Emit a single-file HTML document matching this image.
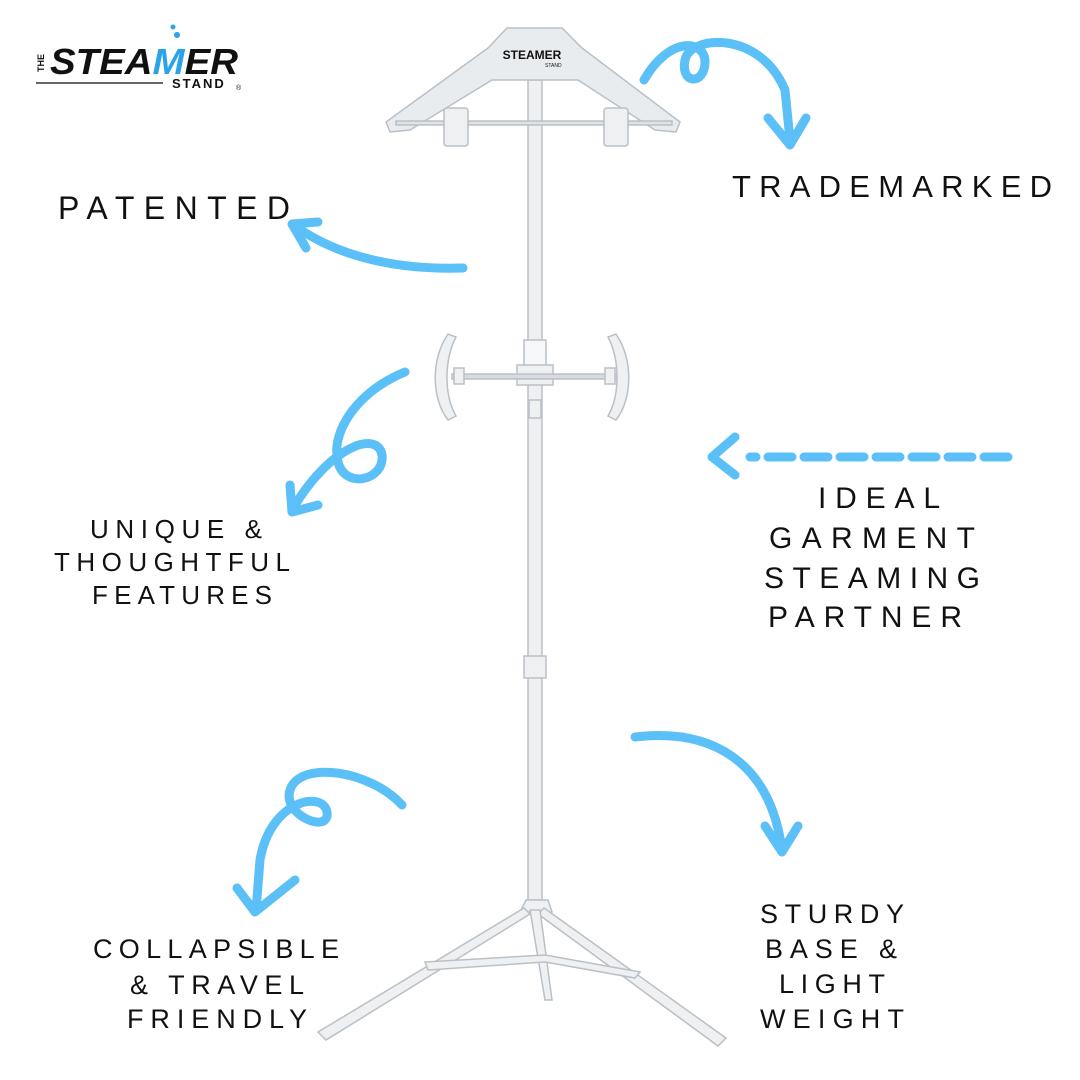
<!DOCTYPE html>
<html><head><style>
body{margin:0;background:#fff}
svg{display:block}
text{font-family:"Liberation Sans",Arial,sans-serif;fill:#111}
</style></head><body>
<svg width="1080" height="1080" viewBox="0 0 1080 1080" xmlns="http://www.w3.org/2000/svg">
<!-- logo -->
<g>
<text x="44" y="72" font-size="9" font-weight="bold" transform="rotate(-90 44 72)">THE</text>
<text x="50" y="74" font-size="36" font-weight="900" textLength="188" lengthAdjust="spacingAndGlyphs" style="font-style:italic">STEA<tspan fill="#2aa3e8">M</tspan>ER</text>
<circle cx="173" cy="27" r="2.5" fill="#2aa3e8"/><circle cx="177" cy="35" r="3" fill="#2aa3e8"/>
<line x1="36" y1="83" x2="163" y2="83" stroke="#333" stroke-width="1.5"/>
<text x="172" y="88" font-size="13" font-weight="bold" letter-spacing="2">STAND</text>
<text x="236" y="90" font-size="7">®</text>
</g>
<!-- arrows -->
<g fill="none" stroke="#5bc0f8" stroke-width="9" stroke-linecap="round" stroke-linejoin="round">
<path d="M644 80 C670 35 705 40 705 62 C705 85 680 85 685 60 C690 35 760 30 785 90 L790 140"/>
<path d="M768 118 L790 145 L806 118"/>
<path d="M463 268 C400 270 340 258 295 226"/>
<path d="M318 222 L292 224 L306 248"/>
<path d="M405 372 C360 390 330 430 338 462 C345 490 385 480 382 455 C378 430 330 445 292 510"/>
<path d="M290 485 L292 512 L318 505"/>
<path d="M1008 457 L750 457" stroke-dasharray="24 12"/>
<path d="M735 437 L712 457 L735 475"/>
<path d="M635 737 C710 728 770 760 782 850"/>
<path d="M765 826 L782 852 L798 826"/>
<path d="M402 805 C370 770 300 760 290 790 C282 815 330 835 327 812 C323 790 270 800 260 860 L256 910"/>
<path d="M237 888 L255 912 L295 880"/>
</g>
<!-- stand -->
<g stroke="#b9c0c6" stroke-width="1.5" fill="#eef0f2">
<rect x="528" y="80" width="14" height="820"/>
<rect x="524" y="340" width="22" height="30" fill="#f7f8f9"/>
<rect x="517" y="365" width="36" height="20"/>
<rect x="529" y="400" width="12" height="18"/>
<rect x="524" y="656" width="22" height="22"/>
<rect x="452" y="374" width="166" height="5" fill="#d8dcdf"/>
<rect x="454" y="368" width="10" height="16"/><rect x="605" y="368" width="10" height="16"/>
<path d="M448 334 C430 360 432 400 448 420 L456 416 C444 395 444 360 456 337 Z"/>
<path d="M616 334 C634 360 632 400 616 420 L608 416 C620 395 620 360 608 337 Z"/>
<path d="M507 28 L562 28 L582 48 L680 122 L676 132 L655 130 L578 80 L492 80 L410 130 L390 132 L386 122 L488 48 Z" fill="#e9ecef"/>
<rect x="396" y="121" width="276" height="4" fill="#dfe3e6"/>
<rect x="444" y="108" width="24" height="38" rx="3"/>
<rect x="604" y="108" width="24" height="38" rx="3"/>
<path d="M526 900 L548 900 L552 912 L520 912 Z"/>
<path d="M524 908 L318 1032 L326 1040 L530 914 Z"/>
<path d="M544 908 L726 1038 L718 1046 L538 914 Z"/>
<path d="M530 910 L545 1000 L552 1000 L540 910 Z"/>
<path d="M425 962 L545 955 L640 972 L635 978 L545 962 L428 970 Z"/>
</g>
<text x="532" y="59" font-size="12" font-weight="bold" text-anchor="middle" fill="#444">STEAMER</text>
<text x="545" y="67" font-size="5" fill="#444">STAND</text>
<!-- labels -->
<g font-weight="500">
<text x="58" y="219" font-size="32" textLength="232" lengthAdjust="spacing">PATENTED</text>
<text x="732" y="197" font-size="31" textLength="320" lengthAdjust="spacing">TRADEMARKED</text>
<g font-size="26">
<text x="90" y="538" textLength="172" lengthAdjust="spacing">UNIQUE &amp;</text>
<text x="54" y="571" textLength="236" lengthAdjust="spacing">THOUGHTFUL</text>
<text x="92" y="604" textLength="180" lengthAdjust="spacing">FEATURES</text>
</g>
<g font-size="30">
<text x="818" y="508" textLength="122" lengthAdjust="spacing">IDEAL</text>
<text x="769" y="548" textLength="206" lengthAdjust="spacing">GARMENT</text>
<text x="764" y="588" textLength="216" lengthAdjust="spacing">STEAMING</text>
<text x="768" y="627" textLength="194" lengthAdjust="spacing">PARTNER</text>
</g>
<g font-size="27">
<text x="93" y="958" textLength="246" lengthAdjust="spacing">COLLAPSIBLE</text>
<text x="130" y="994" textLength="174" lengthAdjust="spacing">&amp; TRAVEL</text>
<text x="127" y="1028" textLength="180" lengthAdjust="spacing">FRIENDLY</text>
</g>
<g font-size="27">
<text x="760" y="923" textLength="144" lengthAdjust="spacing">STURDY</text>
<text x="765" y="958" textLength="132" lengthAdjust="spacing">BASE &amp;</text>
<text x="779" y="993" textLength="106" lengthAdjust="spacing">LIGHT</text>
<text x="760" y="1028" textLength="144" lengthAdjust="spacing">WEIGHT</text>
</g>
</g>
</svg>
</body></html>
